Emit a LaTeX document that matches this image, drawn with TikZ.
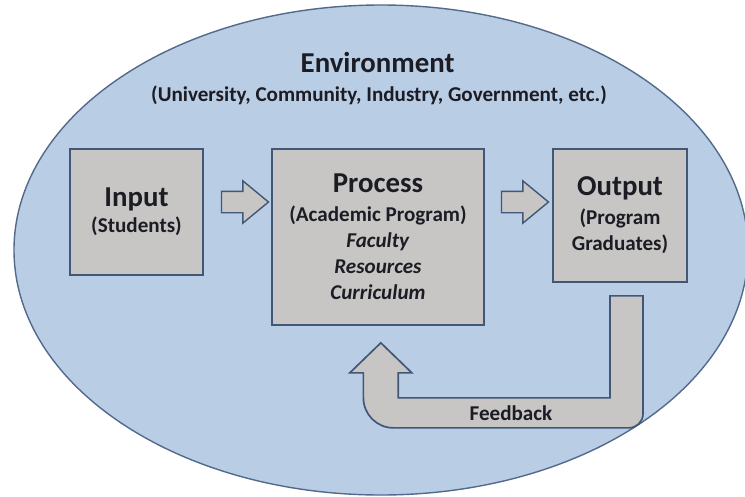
\documentclass[tikz,border=0pt]{standalone}
\usepackage{fontspec}
\setmainfont{Carlito}
\usetikzlibrary{shapes.geometric,shapes.arrows}

\definecolor{envfill}{RGB}{185,205,229}
\definecolor{envline}{RGB}{84,106,140}
\definecolor{boxfill}{RGB}{199,198,196}
\definecolor{boxline}{RGB}{66,86,120}
\definecolor{textcol}{RGB}{28,28,36}

\newcommand{\hdfont}{\fontsize{20.5}{18.5}\selectfont\bfseries}
\newcommand{\txtfont}{\fontsize{15}{18.5}\selectfont\bfseries}

\begin{document}
\begin{tikzpicture}[
    block/.style={rectangle, draw=boxline, fill=boxfill, line width=1.2pt, align=center, text=textcol, font=\txtfont},
    blockarrow/.style={single arrow, draw=boxline, fill=boxfill, line width=1pt, minimum height=1.175cm, inner xsep=0pt, inner ysep=0.25cm, single arrow head extend=0.26cm, single arrow tip angle=79}]
        \useasboundingbox (0,0) rectangle (18.625,12.4);
        \node (env) at (9.525,6.15) [ellipse, draw=envline, fill=envfill, line width=1pt, inner sep=0pt, minimum width=18.35cm, minimum height=12.25cm] {};
        \node (envtitle) at (9.44,10.6) [anchor=base, text=textcol, font=\hdfont] {Environment};
        \node (envsub) at (9.475,9.875) [anchor=base, text=textcol, font=\txtfont] {(University, Community, Industry, Government, etc.)};

        \node (in) at (3.4125,7.1) [block, minimum width=3.325cm, minimum height=3.15cm] {{\hdfont Input}\\(Students)};
        \node (pr) at (9.45,6.475) [block, minimum width=5.3cm, minimum height=4.4cm] {{\hdfont Process}\\[2pt](Academic Program)\\\textit{Faculty}\\\textit{Resources}\\\textit{Curriculum}};
        \node (out) at (15.5,7.0125) [block, minimum width=3.35cm, minimum height=3.325cm] {{\hdfont Output}\\[2pt](Program\\Graduates)};

        \node (a1) at (5.9625,7.35) [blockarrow] {};
        \node (a2) at (12.9625,7.35) [blockarrow] {};

        % feedback loop from output back up into process
        \coordinate (fbstart) at ([xshift=-0.25cm,yshift=-0.325cm]out.south);
        \coordinate (fbtip) at ([xshift=0.07cm,yshift=-0.425cm]pr.south);
        \draw[draw=boxline, fill=boxfill, line width=1.2pt] (fbstart) -- ++(0.825,0) -- ++(0,-2.95)
            arc[start angle=0, end angle=-90, radius=0.35] -- ++(-5.89,0)
            arc[start angle=270, end angle=180, radius=0.75] -- ++(0,0.625) -- ++(-0.34,0)
            -- (fbtip) -- ++(0.775,-0.75) -- ++(-0.34,0) -- ++(0,-0.625) -- ++(5.295,0) -- cycle;
        \node (fb) at (12.775,2.075) [text=textcol, font=\txtfont] {Feedback};

    \end{tikzpicture}
\end{document}
